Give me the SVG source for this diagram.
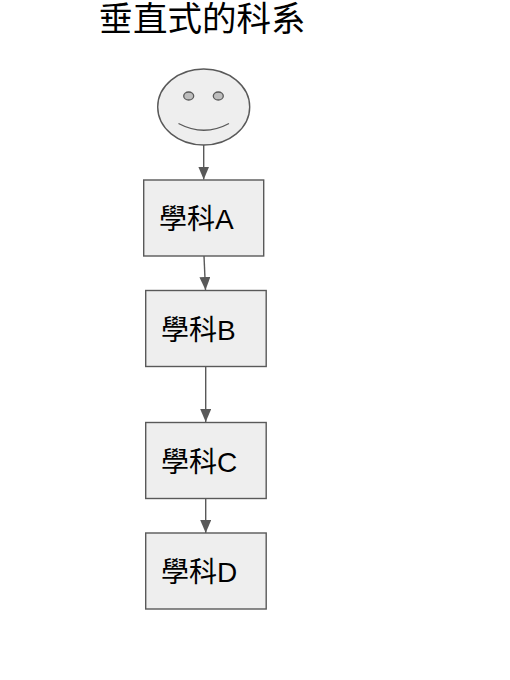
<svg xmlns="http://www.w3.org/2000/svg" width="510" height="680" viewBox="0 0 510 680">
<defs>
<marker id="arrow" markerUnits="userSpaceOnUse" markerWidth="13" markerHeight="12" refX="13" refY="5.5" orient="auto"><path d="M0 0L13 5.500L0 11Z" fill="#595959"/></marker>
</defs>
<style>
.n{fill:#eeeeee;stroke:#595959;stroke-width:1.4}
.t{font-family:"Liberation Sans","Noto Sans CJK TC",sans-serif;font-size:28px;fill:#000}
.c{fill:none;stroke:#595959;stroke-width:1.4;marker-end:url(#arrow)}
</style>
<rect width="510" height="680" fill="#fff"/>
<text id="title" x="98.500" y="31" font-family="'Noto Sans CJK TC',sans-serif" font-size="34.500" fill="#000">垂直式的科系</text>
<g id="connectors">
<line class="c" x1="203.700" y1="145" x2="203.700" y2="179.500"/>
<line class="c" x1="204" y1="256" x2="205.500" y2="290"/>
<line class="c" x1="205.700" y1="367" x2="205.700" y2="422"/>
<line class="c" x1="205.700" y1="499" x2="205.700" y2="533"/>
</g>
<g id="face">
<ellipse class="n" cx="203.700" cy="107" rx="46" ry="38"/>
<ellipse cx="188.700" cy="96" rx="5" ry="4" fill="#bdbdbd" stroke="#595959" stroke-width="1.300"/>
<ellipse cx="218.300" cy="96" rx="5" ry="4" fill="#bdbdbd" stroke="#595959" stroke-width="1.300"/>
<path d="M178.500 123.500Q204 137 229 123.500" fill="none" stroke="#595959" stroke-width="1.300"/>
</g>
<g id="node-a"><rect class="n" x="143.700" y="180" width="120" height="76"/><text class="t" x="159" y="229">學科A</text></g>
<g id="node-b"><rect class="n" x="145.700" y="290.500" width="120.500" height="76"/><text class="t" x="161" y="339.500">學科B</text></g>
<g id="node-c"><rect class="n" x="145.700" y="422.500" width="120.500" height="76"/><text class="t" x="161" y="471.500">學科C</text></g>
<g id="node-d"><rect class="n" x="145.700" y="533" width="120.500" height="76"/><text class="t" x="161" y="582">學科D</text></g>
</svg>
